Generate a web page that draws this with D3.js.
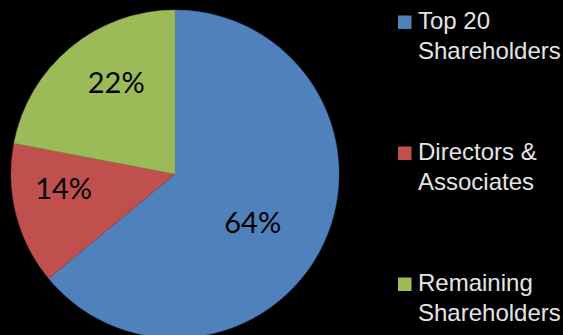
<!DOCTYPE html>
<html>
<head>
<meta charset="utf-8">
<script src="https://cdn.jsdelivr.net/npm/d3@7"></script>
<style>
  html, body { margin: 0; padding: 0; background: #000; }
  svg { display: block; }
  .pct { font-family: Lato, "Open Sans", sans-serif; font-size: 29px; fill: #000; }
  .leg { font-family: "Liberation Sans", Arial, sans-serif; font-size: 24px; fill: #e4e4e4; }
</style>
</head>
<body>
<svg id="chart" width="563" height="335"></svg>
<script>
// shareholder split
const categories = ['Top 20 Shareholders', 'Directors & Associates', 'Remaining Shareholders'];
const legendLines = [['Top 20', 'Shareholders'], ['Directors &', 'Associates'], ['Remaining', 'Shareholders']];
const values = [64, 14, 22];
const colours = ['#4F81BD', '#C0504D', '#9BBB59'];

const svg = d3.select('#chart');
const W = 563, H = 335;
const cx = 175, cy = 174, radius = 164;

svg.append('rect').attr('width', W).attr('height', H).attr('fill', '#000');

const colour = d3.scaleOrdinal().domain(categories).range(colours);
const total = d3.sum(values);

const pie = d3.pie().sort(null).value(d => d.value);
const arcs = pie(categories.map((c, i) => ({ cat: c, value: values[i] })));

const arc = d3.arc().innerRadius(0).outerRadius(radius);

const g = svg.append('g').attr('transform', `translate(${cx},${cy})`);

g.selectAll('path.slice')
  .data(arcs)
  .join('path')
    .attr('class', 'slice')
    .attr('d', arc)
    .attr('fill', d => colour(d.data.cat))
    .attr('stroke', d => d3.color(colour(d.data.cat)).darker(0.4))
    .attr('stroke-width', 0.5);

// small slices get their label pushed further out (roughly like office "best fit")
// labels also sit a little clockwise of the slice middle
const labelTurn = 7 * Math.PI / 180;
function labelPos(d) {
  const share = d.data.value / total;
  const r = radius * (0.72 - 0.25 * share);
  const a = (d.startAngle + d.endAngle) / 2 + labelTurn;
  return [r * Math.sin(a), -r * Math.cos(a)];
}

g.selectAll('text.pct')
  .data(arcs)
  .join('text')
    .attr('class', 'pct')
    .attr('text-anchor', 'middle')
    .attr('dy', '0.36em')
    .attr('transform', d => `translate(${labelPos(d)})`)
    .text(d => Math.round(d.data.value / total * 100) + '%');

// legend
const legY = d3.scalePoint().domain(categories).range([29, 291]);
const sw = 13.5;

const leg = svg.append('g').selectAll('g')
  .data(categories)
  .join('g')
    .attr('transform', d => `translate(398,${legY(d)})`);

leg.append('rect')
  .attr('x', 0).attr('y', -sw)
  .attr('width', sw).attr('height', sw)
  .attr('fill', d => colour(d));

leg.append('text')
  .attr('class', 'leg')
  .attr('x', 20)
  .selectAll('tspan')
  .data((d, i) => legendLines[i])
  .join('tspan')
    .attr('x', 20)
    .attr('dy', (d, i) => i ? 29.5 : 0)
    .text(d => d);
</script>
</body>
</html>
